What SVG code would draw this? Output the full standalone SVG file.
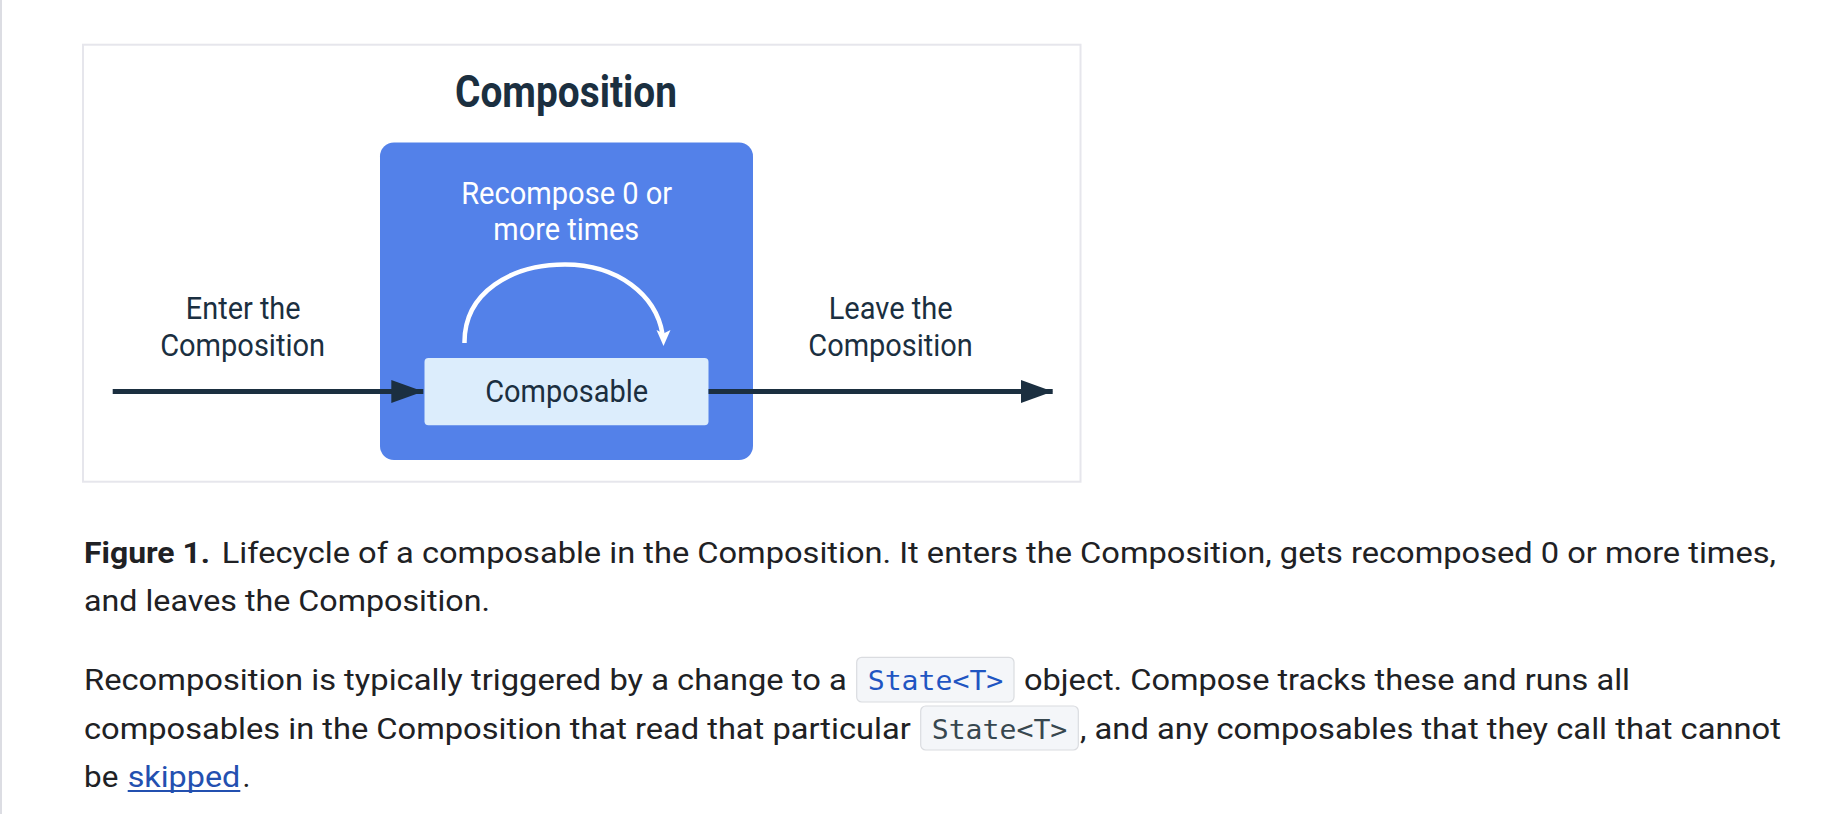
<svg xmlns="http://www.w3.org/2000/svg" width="1834" height="814" viewBox="0 0 1834 814">
  <style>
    .lbl { font-family: Roboto, "Liberation Sans", sans-serif; font-size: 32px; fill: #1b2f40; text-anchor: middle; }
    .wlbl { font-family: Roboto, "Liberation Sans", sans-serif; font-size: 32px; fill: #ffffff; text-anchor: middle; }
    .title { font-family: Roboto, "Liberation Sans", sans-serif; font-size: 44.5px; font-weight: bold; fill: #1b2f40; text-anchor: middle; }
    .body { font-family: Roboto, "Liberation Sans", sans-serif; font-size: 30px; fill: #202124; }
    .bold { font-weight: bold; }
    .link { fill: #2350b0; }
    .code { font-family: "DejaVu Sans Mono", "Liberation Mono", monospace; font-size: 27px; }
    .chip { fill: #f4f6f9; stroke: #dadce0; stroke-width: 1.2; }
    .conn { stroke: #1b2f40; stroke-width: 5; fill: none; }
  </style>
  <defs>
    <marker id="ah" markerUnits="userSpaceOnUse" markerWidth="34" markerHeight="24" refX="32" refY="11.5" orient="auto">
      <path d="M0,0 L32,11.5 L0,23 Z" fill="#1b2f40"/>
    </marker>
  </defs>

  <rect x="0" y="0" width="1834" height="814" fill="#ffffff"/>
  <rect x="0" y="0" width="2" height="814" fill="#dcdde3"/>

  <g id="figure-frame">
    <rect x="83" y="44.7" width="997.5" height="437" fill="#ffffff" stroke="#e6e6ec" stroke-width="2"/>
  </g>

  <g id="composition-title">
    <text class="title" x="566" y="106.7" textLength="222" lengthAdjust="spacingAndGlyphs">Composition</text>
  </g>

  <g id="composition">
    <rect x="380" y="142.5" width="373" height="317.5" rx="14" fill="#5381e9"/>
    <text class="wlbl" x="566.7" y="204" textLength="211" lengthAdjust="spacingAndGlyphs">Recompose 0 or</text>
    <text class="wlbl" x="566.3" y="240" textLength="146" lengthAdjust="spacingAndGlyphs">more times</text>
  </g>

  <g id="composable">
    <rect x="424.5" y="358" width="284" height="67.3" rx="4" fill="#dcedfc"/>
    <text class="lbl" x="566.7" y="401.7" textLength="163" lengthAdjust="spacingAndGlyphs">Composable</text>
  </g>

  <g id="enter-label">
    <text class="lbl" x="243.2" y="319.3" textLength="114.7" lengthAdjust="spacingAndGlyphs">Enter the</text>
    <text class="lbl" x="242.6" y="356" textLength="164.9" lengthAdjust="spacingAndGlyphs">Composition</text>
  </g>

  <g id="leave-label">
    <text class="lbl" x="890.7" y="319.3" textLength="124" lengthAdjust="spacingAndGlyphs">Leave the</text>
    <text class="lbl" x="890.5" y="356" textLength="164.4" lengthAdjust="spacingAndGlyphs">Composition</text>
  </g>

  <g id="connectors">
    <line class="conn" x1="112.7" y1="391.5" x2="423.3" y2="391.5" marker-end="url(#ah)"/>
    <line class="conn" x1="708.5" y1="391.5" x2="1052.7" y2="391.5" marker-end="url(#ah)"/>
    <path d="M464.5,343 C464,292 512,264.5 565,264.5 C618,264.5 656,295 662.5,334" fill="none" stroke="#ffffff" stroke-width="4.5"/>
    <path d="M656.5,330 L663.5,333.5 L670.5,330 L663.5,346 Z" fill="#ffffff"/>
  </g>

  <g id="caption">
    <text class="body bold" x="84" y="562.7" textLength="126" lengthAdjust="spacingAndGlyphs">Figure 1.</text>
    <text class="body" x="221.7" y="562.7" textLength="1554.3" lengthAdjust="spacingAndGlyphs">Lifecycle of a composable in the Composition. It enters the Composition, gets recomposed 0 or more times,</text>
    <text class="body" x="84" y="610.5" textLength="406" lengthAdjust="spacingAndGlyphs">and leaves the Composition.</text>
  </g>

  <g id="paragraph">
    <text class="body" x="84" y="690" textLength="762.7" lengthAdjust="spacingAndGlyphs">Recomposition is typically triggered by a change to a</text>
    <rect class="chip" x="856.7" y="657.3" width="157.3" height="44.7" rx="5"/>
    <text class="code" x="867.7" y="690" fill="#1f55c2" textLength="135.6" lengthAdjust="spacingAndGlyphs">State&lt;T&gt;</text>
    <text class="body" x="1024" y="690" textLength="606" lengthAdjust="spacingAndGlyphs">object. Compose tracks these and runs all</text>

    <text class="body" x="84" y="738.5" textLength="826.7" lengthAdjust="spacingAndGlyphs">composables in the Composition that read that particular</text>
    <rect class="chip" x="920.7" y="706" width="157.6" height="44" rx="5"/>
    <text class="code" x="931.7" y="738.5" fill="#37474f" textLength="135.6" lengthAdjust="spacingAndGlyphs">State&lt;T&gt;</text>
    <text class="body" x="1080" y="738.5" textLength="701" lengthAdjust="spacingAndGlyphs">, and any composables that they call that cannot</text>

    <text class="body" x="84" y="786.5" textLength="34.3" lengthAdjust="spacingAndGlyphs">be</text>
    <text class="body link" x="127.7" y="786.5" textLength="112.6" lengthAdjust="spacingAndGlyphs">skipped</text>
    <line x1="127.7" y1="791" x2="240.3" y2="791" stroke="#2350b0" stroke-width="2"/>
    <text class="body" x="242.5" y="786.5">.</text>
  </g>
</svg>
